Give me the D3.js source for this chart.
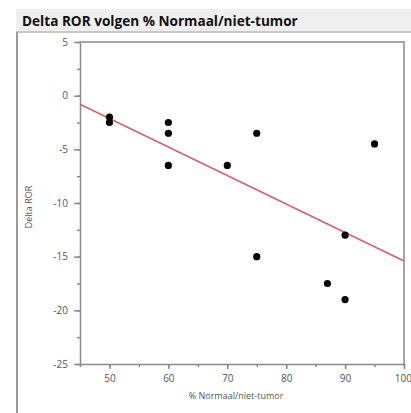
<!DOCTYPE html>
<html>
<head>
<meta charset="utf-8">
<script src="https://cdn.jsdelivr.net/npm/d3@7"></script>
<style>
  body { margin: 0; background: #fff; }
  svg { display: block; }
  .axis path, .axis line { stroke: #8a8a8a; stroke-width: 1.5; }
  .axis text { fill: #555; font-family: "Open Sans", sans-serif; font-size: 10px; }
</style>
</head>
<body>
<div id="chart"></div>
<script>
var width = 411, height = 413,
    margin = {top: 42, right: 7, bottom: 49, left: 80};

// data
var pctNormal = [50, 50, 60, 60, 60, 70, 75, 75, 87, 90, 90, 95];
var deltaRor  = [-2, -2.5, -2.5, -3.5, -6.5, -6.5, -3.5, -15, -17.5, -13, -19, -4.5];
var fitX = [45, 100];
var fitY = [-0.8, -15.4];
var xTicks = [50, 60, 70, 80, 90, 100];
var yTicks = [5, 0, -5, -10, -15, -20, -25];

var svg = d3.select("#chart").append("svg")
    .attr("width", width)
    .attr("height", height);

// header band + frame
svg.append("rect")
    .attr("x", 16).attr("y", 9)
    .attr("width", width - 16).attr("height", 23)
    .attr("fill", "#efefef");
svg.append("line")
    .attr("x1", 16).attr("x2", width)
    .attr("y1", 32).attr("y2", 32)
    .attr("stroke", "#c8c8c8").attr("stroke-width", 2);
svg.append("line")
    .attr("x1", 17).attr("x2", 17)
    .attr("y1", 32).attr("y2", height)
    .attr("stroke", "#9a9a9a").attr("stroke-width", 2);

svg.append("text")
    .attr("x", 22).attr("y", 26)
    .style("font-family", "'Open Sans', sans-serif")
    .style("font-weight", "bold")
    .style("font-size", "13.6px")
    .attr("fill", "#111")
    .text("Delta ROR volgen % Normaal/niet-tumor");

var w = width - margin.left - margin.right,
    h = height - margin.top - margin.bottom;

var g = svg.append("g")
    .attr("transform", "translate(" + margin.left + "," + margin.top + ")");

var x = d3.scaleLinear().domain([45, 100]).range([0, w]);
var y = d3.scaleLinear().domain([-25, 5]).range([h, 0]);

var fmt = function(d) { return String(d); };

// minor ticks
g.append("g")
    .attr("class", "axis")
    .attr("transform", "translate(0," + h + ")")
    .call(d3.axisBottom(x).tickValues(d3.range(45, 101, 5)).tickSize(3).tickFormat(""))
    .select(".domain").remove();
g.append("g")
    .attr("class", "axis")
    .call(d3.axisLeft(y).tickValues(d3.range(-25, 5.1, 2.5)).tickSize(3).tickFormat(""))
    .select(".domain").remove();

var xAxis = g.append("g")
    .attr("class", "axis")
    .attr("transform", "translate(0," + h + ")")
    .call(d3.axisBottom(x).tickValues(xTicks).tickSize(5).tickSizeOuter(0).tickPadding(6).tickFormat(fmt));

var yAxis = g.append("g")
    .attr("class", "axis")
    .call(d3.axisLeft(y).tickValues(yTicks).tickSize(6).tickSizeOuter(0).tickPadding(6).tickFormat(fmt));

// last x label would run off the edge
xAxis.selectAll(".tick text")
    .filter(function(d) { return d === 100; })
    .attr("text-anchor", "end")
    .attr("dx", "0.75em");

// box top and right
g.append("path")
    .attr("d", "M0,0H" + w + "V" + h)
    .attr("fill", "none")
    .attr("stroke", "#8a8a8a")
    .attr("stroke-width", 1.5);

g.append("line")
    .attr("x1", x(fitX[0])).attr("y1", y(fitY[0]))
    .attr("x2", x(fitX[1])).attr("y2", y(fitY[1]))
    .attr("stroke", "#d9606a")
    .attr("stroke-width", 1.6);

g.selectAll("circle.dot")
    .data(pctNormal)
    .enter().append("circle")
    .attr("class", "dot")
    .attr("cx", function(d) { return x(d); })
    .attr("cy", function(d, i) { return y(deltaRor[i]); })
    .attr("r", 3.6)
    .attr("fill", "#000");

svg.append("text")
    .attr("x", 236).attr("y", 399)
    .attr("text-anchor", "middle")
    .style("font-family", "'Open Sans', sans-serif")
    .style("font-size", "9px")
    .attr("fill", "#555")
    .text("% Normaal/niet-tumor");

svg.append("text")
    .attr("transform", "translate(32,207) rotate(-90)")
    .attr("text-anchor", "middle")
    .style("font-family", "'Open Sans', sans-serif")
    .style("font-size", "9px")
    .attr("fill", "#555")
    .text("Delta ROR");
</script>
</body>
</html>
